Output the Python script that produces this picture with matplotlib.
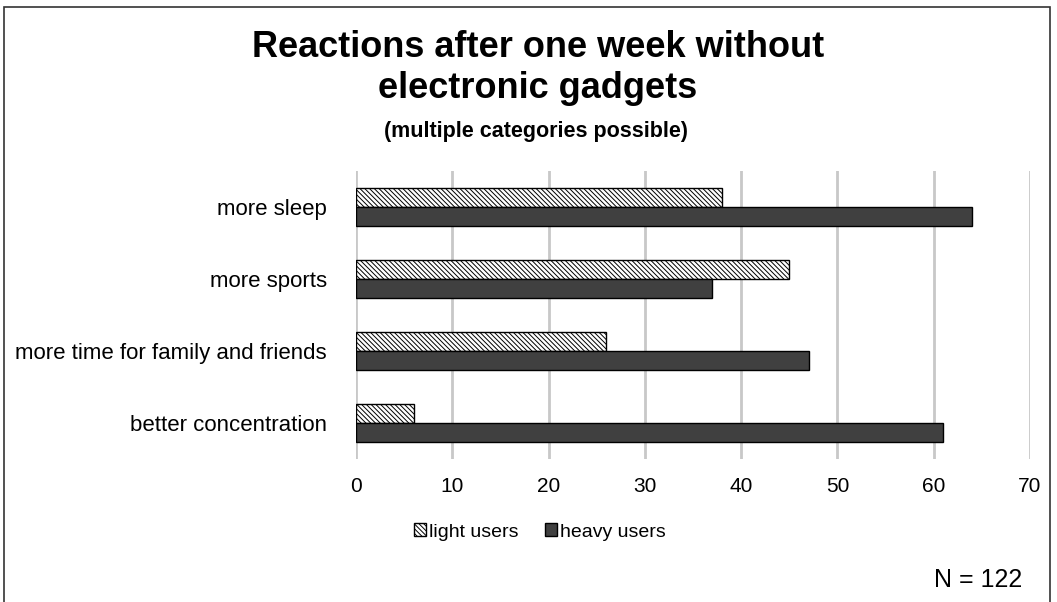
import numpy as np
import matplotlib.pyplot as plt
from matplotlib.patches import Rectangle

plt.rcParams['font.family'] = ['Liberation Sans', 'DejaVu Sans']
plt.rcParams['hatch.linewidth'] = 0.7

categories = ['more sleep', 'more sports', 'more time for family and friends', 'better concentration']
light_users = [38, 45, 26, 6]
heavy_users = [64, 37, 47, 61]
x_ticks = [0, 10, 20, 30, 40, 50, 60, 70]

fig = plt.figure(figsize=(10.57, 6.02), dpi=100)
ax = fig.add_axes([356 / 1057, 1 - 459 / 602, (1030 - 356) / 1057, 288 / 602])

y = np.arange(len(categories))
h = 0.257
ax.barh(y - h / 2, light_users, height=h, color='white', edgecolor='black',
        hatch='\\' * 7, linewidth=1.0, label='light users', zorder=3)
ax.barh(y + h / 2, heavy_users, height=h, color='#404040', edgecolor='black',
        linewidth=1.0, label='heavy users', zorder=3)

ax.set_xlim(0, 70)
ax.set_ylim(len(categories) - 0.5, -0.5)
ax.set_xticks(x_ticks)
ax.set_yticks(y)
ax.set_yticklabels(categories, fontsize=16)
ax.tick_params(axis='x', labelsize=15, length=0, pad=13)
ax.tick_params(axis='y', length=0, pad=21)
ax.grid(axis='x', color='#c8c8c8', linewidth=2, zorder=0)
for s in ax.spines.values():
    s.set_visible(False)

fig.legend(*ax.get_legend_handles_labels(), loc='center', bbox_to_anchor=(540 / 1057, 1 - 532 / 602),
           ncol=2, frameon=False, fontsize=14, handlelength=0.6, handleheight=0.6,
           handletextpad=0.15, columnspacing=1.4)

fig.text(538 / 1057, 1 - 68 / 602, 'Reactions after one week without\nelectronic gadgets',
         ha='center', va='center', fontsize=26, fontweight='bold', linespacing=1.25)
fig.text(536 / 1057, 1 - 132 / 602, '(multiple categories possible)', ha='center', va='center',
         fontsize=15.5, fontweight='bold')
fig.text(978 / 1057, 1 - 580 / 602, 'N = 122', ha='center', va='center', fontsize=18)

fig.patches.append(Rectangle((4 / 1057, -0.02), 1046 / 1057, 1.02 - 7 / 602, transform=fig.transFigure,
                             fill=False, edgecolor='#333333', linewidth=1.2))

fig.savefig('out.png', dpi=100)
